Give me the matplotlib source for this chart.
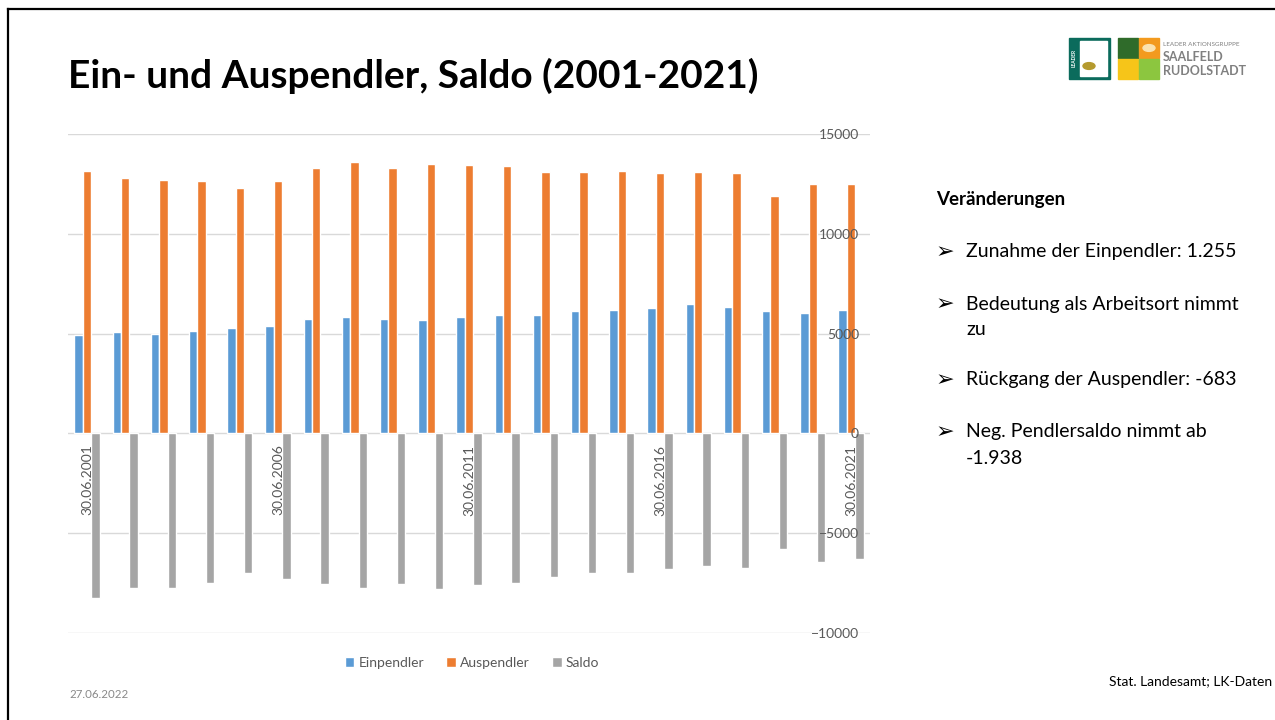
import numpy as np
import matplotlib.pyplot as plt
from matplotlib.patches import Rectangle, Circle
from matplotlib.lines import Line2D

plt.rcParams['font.family'] = ['Lato', 'DejaVu Sans']

# Daten
jahre = np.arange(2001, 2022)
einpendler = [4920, 5070, 4980, 5120, 5300, 5380, 5730, 5850, 5720, 5700,
              5820, 5920, 5920, 6130, 6170, 6270, 6470, 6330, 6150, 6030, 6170]
auspendler = [13170, 12800, 12700, 12650, 12270, 12670, 13280, 13580, 13280, 13500,
              13450, 13420, 13100, 13100, 13130, 13050, 13080, 13050, 11900, 12480, 12490]
saldo = [-8250, -7750, -7750, -7500, -6970, -7270, -7550, -7750, -7570, -7800,
         -7620, -7500, -7170, -6980, -6980, -6780, -6630, -6720, -5770, -6420, -6300]
beschriftete_jahre = [2001, 2006, 2011, 2016, 2021]
y_ticks = np.arange(-10000, 15001, 5000)

W, H = 1275, 720
fig = plt.figure(figsize=(W / 100, H / 100), dpi=100)


def fx(x):
    return x / W


def fy(y):
    return 1 - y / H


# Rahmen der Folie
fig.add_artist(Line2D([fx(8), fx(1280)], [fy(9), fy(9)], color='black', lw=1.6))
fig.add_artist(Line2D([fx(8), fx(8)], [fy(9), fy(725)], color='black', lw=1.6))

# Titel
fig.text(fx(68), fy(76), 'Ein- und Auspendler, Saldo (2001-2021)',
         fontsize=28, fontweight='bold', va='center', ha='left')

# Diagramm
ax = fig.add_axes([fx(68), fy(633), (870 - 68) / W, (633 - 134) / H])
x = np.arange(len(jahre))
b = 0.22
for yt in y_ticks:
    ax.axhline(yt, color='#D9D9D9', lw=1, zorder=0)
ax.bar(x - b, einpendler, width=b, color='#5B9BD5', edgecolor='white', linewidth=1, label='Einpendler', zorder=1)
ax.bar(x, auspendler, width=b, color='#ED7D31', edgecolor='white', linewidth=1, label='Auspendler', zorder=1)
ax.bar(x + b, saldo, width=b, color='#A5A5A5', edgecolor='white', linewidth=1, label='Saldo', zorder=1)

ax.set_xlim(-0.5, len(jahre) - 0.5)
ax.set_ylim(-10000, 15000)
ax.set_yticks(y_ticks)
for s in ['top', 'left', 'right', 'bottom']:
    ax.spines[s].set_visible(False)
ax.spines['bottom'].set_position(('data', 0))

ax.yaxis.tick_right()
ax.tick_params(axis='y', length=0, pad=-8, labelsize=10, labelcolor='#595959')
for lab in ax.get_yticklabels():
    lab.set_horizontalalignment('right')

pos = [list(jahre).index(j) for j in beschriftete_jahre]
ax.set_xticks(pos)
ax.set_xticklabels(['30.06.%d' % j for j in beschriftete_jahre], rotation=90)
ax.tick_params(axis='x', length=0, pad=8, labelsize=10, labelcolor='#595959')

fig.legend(loc='center', bbox_to_anchor=(fx(472), fy(663)), ncol=3, frameon=False,
           fontsize=10, labelcolor='#595959', handlelength=0.7, handleheight=0.7,
           handletextpad=0.3, columnspacing=1.6)

# Textfeld rechts
fig.text(fx(936), fy(200), 'Veränderungen', fontsize=13.5, fontweight='bold', va='center')
punkte = [(252, 'Zunahme der Einpendler: 1.255'),
          (304, 'Bedeutung als Arbeitsort nimmt'),
          (380, 'Rückgang der Auspendler: -683'),
          (432, 'Neg. Pendlersaldo nimmt ab')]
for y, t in punkte:
    fig.text(fx(936), fy(y), '\u27a2', fontsize=16, family='DejaVu Sans', va='center')
    fig.text(fx(966), fy(y), t, fontsize=14, va='center')
fig.text(fx(966), fy(330), 'zu', fontsize=14, va='center')
fig.text(fx(966), fy(458), '-1.938', fontsize=14, va='center')

# Fußzeile
fig.text(fx(69), fy(694), '27.06.2022', fontsize=8.3, color='#898989', va='center')
fig.text(fx(1272), fy(681), 'Stat. Landesamt; LK-Daten', fontsize=10, va='center', ha='right')

# Logo (vereinfacht)
fig.add_artist(Rectangle((fx(1069), fy(79)), 41 / W, 41 / H, color='#0B6B5C'))
fig.add_artist(Rectangle((fx(1080), fy(76)), 27 / W, 35 / H, color='white'))
fig.add_artist(Circle((fx(1089), fy(66)), 6 / W, color='#B59A2E'))
fig.text(fx(1074), fy(58), 'LEADER', fontsize=3.5, color='white', rotation=90,
         ha='center', va='center', fontweight='bold')
kacheln = [(1118, 38, '#2F6B2A'), (1139, 38, '#F39A1E'),
           (1118, 59, '#F6C519'), (1139, 59, '#8CC63F')]
for kx, ky, c in kacheln:
    fig.add_artist(Rectangle((fx(kx), fy(ky + 20)), 20 / W, 20 / H, color=c))
fig.add_artist(Circle((fx(1149), fy(48)), 6 / W, color='#FBE3B0'))
fig.text(fx(1163), fy(44), 'LEADER AKTIONSGRUPPE', fontsize=4.5, color='#808080', va='center')
fig.text(fx(1163), fy(57), 'SAALFELD', fontsize=9, color='#808080', va='center', fontweight='bold')
fig.text(fx(1163), fy(71), 'RUDOLSTADT', fontsize=9, color='#808080', va='center', fontweight='bold')

fig.savefig('out.png', dpi=100)
